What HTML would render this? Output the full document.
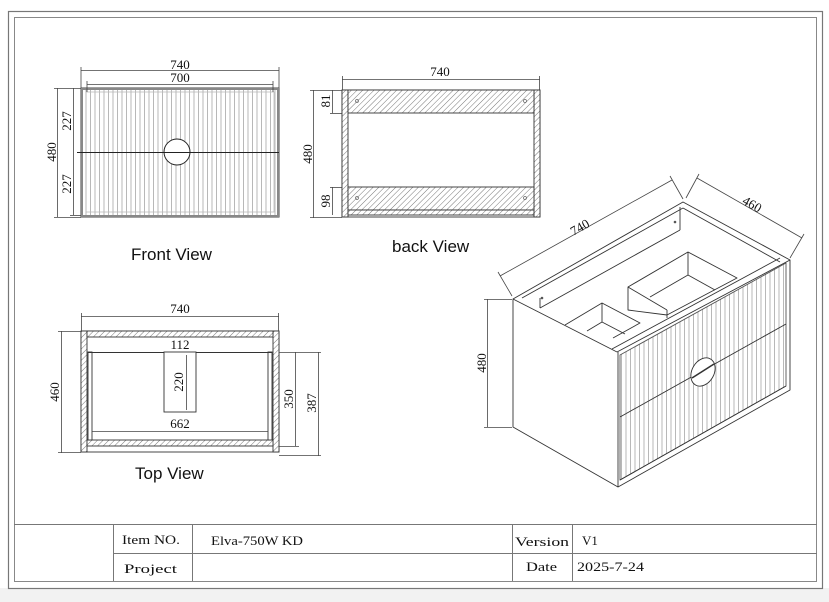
<!DOCTYPE html>
<html><head><meta charset="utf-8"><style>
html,body{margin:0;padding:0;background:#fff}
svg{display:block}
.s{font-family:"Liberation Sans",sans-serif}
.m text{font-family:"Liberation Serif","Noto Serif CJK SC",serif}
</style></head><body>
<svg width="829" height="602" viewBox="0 0 829 602" xmlns="http://www.w3.org/2000/svg">
<defs>
<pattern id="h" width="4" height="4" patternUnits="userSpaceOnUse" patternTransform="rotate(45)">
<rect width="4" height="4" fill="#fff"/><line x1="0" y1="0" x2="0" y2="4" stroke="#555" stroke-width="0.8"/></pattern>
<pattern id="f" width="4.5" height="10" patternUnits="userSpaceOnUse">
<rect width="4.5" height="10" fill="#fff"/><line x1="0.5" y1="0" x2="0.5" y2="10" stroke="#999" stroke-width="0.7"/></pattern>
</defs>
<rect x="0" y="588" width="829" height="14" fill="#f2f2f2"/>
<rect x="8.5" y="11.5" width="814" height="577" fill="none" stroke="#777" stroke-width="1.2"/>
<rect x="14.5" y="17.5" width="802" height="564" fill="none" stroke="#888" stroke-width="1"/>
<g stroke="#777" stroke-width="1" fill="none">
<line x1="14" y1="524.5" x2="817" y2="524.5"/>
<line x1="113" y1="553.5" x2="817" y2="553.5"/>
<line x1="113.5" y1="524" x2="113.5" y2="581"/>
<line x1="192.5" y1="524" x2="192.5" y2="581"/>
<line x1="512.5" y1="524" x2="512.5" y2="581"/>
<line x1="572.5" y1="524" x2="572.5" y2="581"/>
</g>
<g class="m" font-size="13" fill="#111">
<text x="122" y="544" textLength="58" lengthAdjust="spacingAndGlyphs">Item NO.</text>
<text x="211" y="545" textLength="92" lengthAdjust="spacingAndGlyphs">Elva-750W KD</text>
<text x="515" y="546" textLength="54" lengthAdjust="spacingAndGlyphs">Version</text>
<text x="582" y="545">V1</text>
<text x="124" y="573" textLength="53" lengthAdjust="spacingAndGlyphs">Project</text>
<text x="526" y="571" textLength="31" lengthAdjust="spacingAndGlyphs">Date</text>
<text x="577" y="571" textLength="67" lengthAdjust="spacingAndGlyphs">2025-7-24</text>
</g>
<!-- FRONT VIEW -->
<rect x="81" y="88" width="198" height="129" fill="url(#f)" stroke="#444" stroke-width="1"/>
<rect x="82" y="89" width="196" height="127" fill="none" stroke="#888" stroke-width="2"/>
<rect x="86" y="92" width="188" height="120" fill="none" stroke="#bbb" stroke-width="0.8"/>
<line x1="77" y1="152.5" x2="279" y2="152.5" stroke="#222" stroke-width="1"/>
<circle cx="177" cy="152" r="13" fill="#fff" stroke="#222" stroke-width="1"/>
<line x1="164" y1="152.5" x2="190" y2="152.5" stroke="#222" stroke-width="1"/>
<g stroke="#444" stroke-width="0.8" fill="none">
<line x1="81" y1="70.5" x2="279" y2="70.5"/><line x1="81" y1="67" x2="81" y2="88"/><line x1="279" y1="67" x2="279" y2="88"/>
<line x1="87" y1="84.5" x2="273" y2="84.5"/><line x1="87" y1="81" x2="87" y2="92"/><line x1="273" y1="81" x2="273" y2="92"/>
<line x1="57.5" y1="88" x2="57.5" y2="217"/><line x1="54" y1="88.5" x2="81" y2="88.5"/><line x1="54" y1="217.5" x2="81" y2="217.5"/>
<line x1="73.5" y1="88" x2="73.5" y2="215"/><line x1="70" y1="215.5" x2="81" y2="215.5"/>
</g>
<g class="m" font-size="13" fill="#111">
<text x="180" y="69" text-anchor="middle">740</text>
<text x="180" y="82" text-anchor="middle">700</text>
<text transform="translate(56,152) rotate(-90)" text-anchor="middle">480</text>
<text transform="translate(71,121) rotate(-90)" text-anchor="middle">227</text>
<text transform="translate(71,184) rotate(-90)" text-anchor="middle">227</text>
</g>
<text class="s" x="131" y="260" font-size="17" fill="#111">Front View</text>
<!-- BACK VIEW -->
<g stroke="#333" stroke-width="0.9">
<rect x="342" y="90" width="198" height="127" fill="#fff"/>
<rect x="342" y="90" width="6" height="127" fill="url(#h)"/>
<rect x="534" y="90" width="6" height="127" fill="url(#h)"/>
<rect x="348" y="90" width="186" height="23" fill="url(#h)"/>
<rect x="348" y="187" width="186" height="23" fill="url(#h)"/>
<rect x="348" y="210" width="186" height="5" fill="url(#h)"/>
</g>
<g fill="none" stroke="#666" stroke-width="0.7">
<circle cx="357" cy="101" r="1.5"/><circle cx="525" cy="101" r="1.5"/>
<circle cx="357" cy="198" r="1.5"/><circle cx="525" cy="198" r="1.5"/>
</g>
<g stroke="#444" stroke-width="0.8" fill="none">
<line x1="342" y1="79.5" x2="540" y2="79.5"/><line x1="342.5" y1="76" x2="342.5" y2="90"/><line x1="539.5" y1="76" x2="539.5" y2="90"/>
<line x1="313.5" y1="90" x2="313.5" y2="218"/><line x1="310" y1="90.5" x2="342" y2="90.5"/><line x1="310" y1="217.5" x2="342" y2="217.5"/>
<line x1="332.5" y1="90" x2="332.5" y2="113"/><line x1="330" y1="113.5" x2="342" y2="113.5"/>
<line x1="332.5" y1="187" x2="332.5" y2="215"/><line x1="330" y1="187.5" x2="342" y2="187.5"/>
</g>
<g class="m" font-size="13" fill="#111">
<text x="440" y="76" text-anchor="middle">740</text>
<text transform="translate(312,154) rotate(-90)" text-anchor="middle">480</text>
<text transform="translate(330,101) rotate(-90)" text-anchor="middle">81</text>
<text transform="translate(330,201) rotate(-90)" text-anchor="middle">98</text>
</g>
<text class="s" x="392" y="252" font-size="17" fill="#111">back View</text>
<!-- TOP VIEW -->
<g stroke="#333" stroke-width="0.9">
<rect x="81" y="331" width="198" height="121" fill="#fff"/>
<rect x="81" y="331" width="6" height="121" fill="url(#h)"/>
<rect x="273" y="331" width="6" height="121" fill="url(#h)"/>
<rect x="87" y="331" width="186" height="6" fill="url(#h)"/>
<rect x="87" y="440" width="186" height="6" fill="url(#h)"/>
<rect x="88" y="352" width="4" height="88" fill="#fff"/>
<rect x="268" y="352" width="4" height="88" fill="#fff"/>
<line x1="88" y1="352.5" x2="272" y2="352.5"/>
<rect x="164" y="352" width="32" height="60" fill="#fff"/>
</g>
<g stroke="#444" stroke-width="0.8" fill="none">
<line x1="81" y1="316.5" x2="279" y2="316.5"/><line x1="81.5" y1="313" x2="81.5" y2="331"/><line x1="278.5" y1="313" x2="278.5" y2="331"/>
<line x1="61.5" y1="331" x2="61.5" y2="453"/><line x1="58" y1="331.5" x2="81" y2="331.5"/><line x1="58" y1="452.5" x2="81" y2="452.5"/>
<line x1="295.5" y1="352" x2="295.5" y2="446"/><line x1="279" y1="352.5" x2="299" y2="352.5"/><line x1="279" y1="446.5" x2="299" y2="446.5"/>
<line x1="318.5" y1="352" x2="318.5" y2="456"/><line x1="299" y1="352.5" x2="321" y2="352.5"/><line x1="279" y1="455.5" x2="321" y2="455.5"/>
<line x1="186.5" y1="355" x2="186.5" y2="410"/>
<line x1="92" y1="431.5" x2="268" y2="431.5"/>
</g>
<g class="m" font-size="13" fill="#111">
<text x="180" y="349" text-anchor="middle">112</text>
<text x="180" y="313" text-anchor="middle">740</text>
<text x="180" y="428" text-anchor="middle">662</text>
<text transform="translate(59,392) rotate(-90)" text-anchor="middle">460</text>
<text transform="translate(183,382) rotate(-90)" text-anchor="middle">220</text>
<text transform="translate(293,399) rotate(-90)" text-anchor="middle">350</text>
<text transform="translate(316,403) rotate(-90)" text-anchor="middle">387</text>
</g>
<text class="s" x="135" y="479" font-size="17" fill="#111">Top  View</text>
<!-- ISO -->
<g stroke="#333" stroke-width="0.9" fill="#fff" stroke-linejoin="round">
<polygon points="513,299 683,202 790,260 790,390 618,487 513,427"/>
<line x1="513" y1="299" x2="617" y2="352"/>
<polygon points="620,355 786,263 786,386 620,480" fill="url(#f)" stroke="#555"/>
<line x1="617" y1="352" x2="790" y2="260"/>
<line x1="618" y1="487" x2="618" y2="352"/>
<line x1="620" y1="480" x2="786" y2="386"/>
<line x1="620" y1="417" x2="786" y2="324"/>
<line x1="522" y1="298" x2="683" y2="208" fill="none"/>
<line x1="683" y1="208" x2="780" y2="262" fill="none"/>
<line x1="540" y1="308" x2="680" y2="230" fill="none"/>
<line x1="680" y1="207" x2="680" y2="230"/>
<line x1="540" y1="298" x2="540" y2="308"/>
<line x1="612" y1="349" x2="780" y2="258"/>
<polygon points="628,287 688,252 737,278 667,315 628,310" fill="#fff"/>
<line x1="628" y1="287" x2="667" y2="310" fill="none"/>
<line x1="667" y1="310" x2="667" y2="318"/>
<line x1="688" y1="252" x2="688" y2="275"/>
<line x1="688" y1="275" x2="650" y2="297"/>
<line x1="688" y1="275" x2="715" y2="290"/>
<polyline points="565,325 602,303 640,323 613,338" fill="none"/>
<line x1="602" y1="303" x2="602" y2="322"/>
<line x1="602" y1="322" x2="587" y2="331"/>
<line x1="602" y1="322" x2="625" y2="334"/>
<ellipse cx="703" cy="372" rx="11" ry="15" transform="rotate(30 703 372)" fill="#fff"/>
<line x1="692" y1="378" x2="714" y2="364" stroke-width="1.6"/>
</g>
<g fill="#555"><circle cx="542" cy="298" r="1.3"/><circle cx="675" cy="222" r="1.3"/></g>
<g stroke="#444" stroke-width="0.8" fill="none">
<line x1="500" y1="276" x2="672" y2="180"/><line x1="498" y1="272" x2="512" y2="296"/><line x1="670" y1="176" x2="683" y2="199"/>
<line x1="697" y1="178" x2="802" y2="238"/><line x1="699" y1="174" x2="686" y2="198"/><line x1="804" y1="234" x2="790" y2="258"/>
<line x1="487.5" y1="299" x2="487.5" y2="427"/><line x1="484" y1="299.5" x2="512" y2="299.5"/><line x1="484" y1="427.5" x2="512" y2="427.5"/>
</g>
<g class="m" font-size="13" fill="#111">
<text transform="translate(582,231) rotate(-30)" text-anchor="middle">740</text>
<text transform="translate(750,208) rotate(30)" text-anchor="middle">460</text>
<text transform="translate(486,363) rotate(-90)" text-anchor="middle">480</text>
</g>
</svg>
</body></html>
